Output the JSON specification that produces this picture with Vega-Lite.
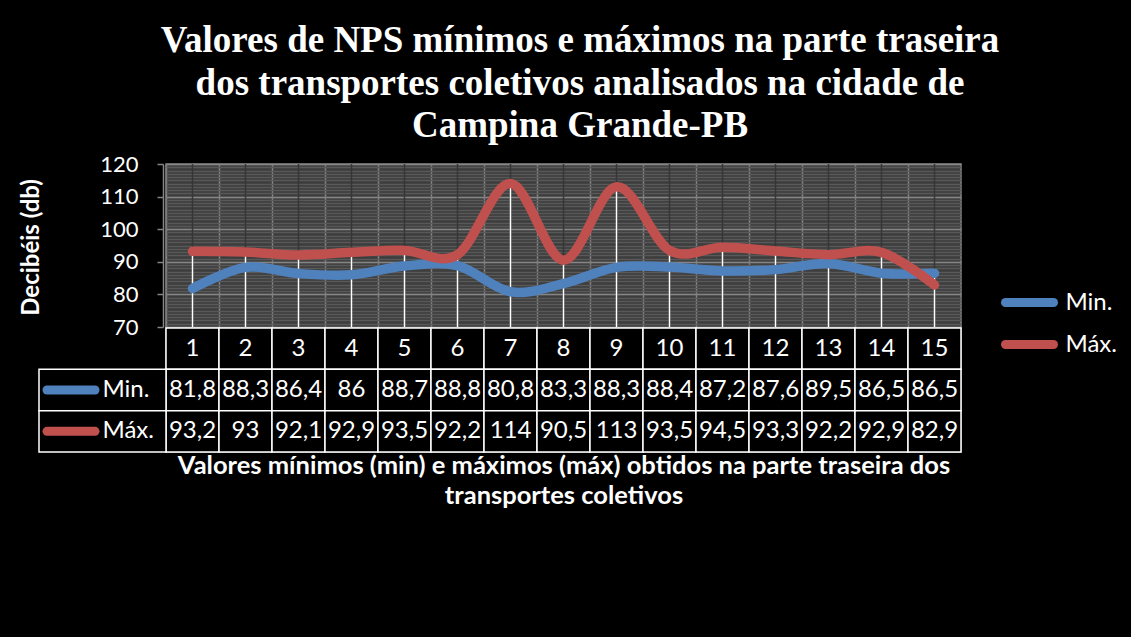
{
  "$schema": "https://vega.github.io/schema/vega-lite/v6.json",
  "width": 795,
  "height": 288,
  "autosize": "none",
  "padding": {"left": 166, "top": 164, "right": 170, "bottom": 185},
  "background": "black",
  "config": {
    "view": {"fill": "#3d3d3d", "stroke": "#858585", "strokeWidth": 1.5},
    "locale": {"number": {"decimal": ",", "thousands": ".", "grouping": [3], "currency": ["R$", ""]}}
  },
  "title": {
    "text": ["Valores de NPS mínimos e máximos na parte traseira", "dos transportes coletivos analisados na cidade de", "Campina Grande-PB"],
    "font": "Liberation Serif",
    "fontSize": 37,
    "fontWeight": "bold",
    "color": "white",
    "lineHeight": 42.5,
    "anchor": "middle",
    "frame": "group",
    "dx": 16.5,
    "offset": 8
  },
  "datasets": {
    "nps": [
      {"n": 1, "serie": "Min.", "value": 81.8},
      {"n": 2, "serie": "Min.", "value": 88.3},
      {"n": 3, "serie": "Min.", "value": 86.4},
      {"n": 4, "serie": "Min.", "value": 86},
      {"n": 5, "serie": "Min.", "value": 88.7},
      {"n": 6, "serie": "Min.", "value": 88.8},
      {"n": 7, "serie": "Min.", "value": 80.8},
      {"n": 8, "serie": "Min.", "value": 83.3},
      {"n": 9, "serie": "Min.", "value": 88.3},
      {"n": 10, "serie": "Min.", "value": 88.4},
      {"n": 11, "serie": "Min.", "value": 87.2},
      {"n": 12, "serie": "Min.", "value": 87.6},
      {"n": 13, "serie": "Min.", "value": 89.5},
      {"n": 14, "serie": "Min.", "value": 86.5},
      {"n": 15, "serie": "Min.", "value": 86.5},
      {"n": 1, "serie": "Máx.", "value": 93.2},
      {"n": 2, "serie": "Máx.", "value": 93},
      {"n": 3, "serie": "Máx.", "value": 92.1},
      {"n": 4, "serie": "Máx.", "value": 92.9},
      {"n": 5, "serie": "Máx.", "value": 93.5},
      {"n": 6, "serie": "Máx.", "value": 92.2},
      {"n": 7, "serie": "Máx.", "value": 114},
      {"n": 8, "serie": "Máx.", "value": 90.5},
      {"n": 9, "serie": "Máx.", "value": 113},
      {"n": 10, "serie": "Máx.", "value": 93.5},
      {"n": 11, "serie": "Máx.", "value": 94.5},
      {"n": 12, "serie": "Máx.", "value": 93.3},
      {"n": 13, "serie": "Máx.", "value": 92.2},
      {"n": 14, "serie": "Máx.", "value": 92.9},
      {"n": 15, "serie": "Máx.", "value": 82.9}
    ]
  },
  "data": {"name": "nps"},
  "layer": [
    {
      "transform": [{"filter": "datum.serie === 'Min.'"}],
      "mark": {"type": "rule", "color": "#363636", "strokeWidth": 1.5},
      "encoding": {
        "x": {"field": "n", "type": "ordinal", "scale": {"type": "band", "paddingInner": 0, "paddingOuter": 0}, "axis": null},
        "y": {
          "datum": 70, "type": "quantitative",
          "scale": {"domain": [70, 120], "range": [163, 0]},
          "axis": {
            "orient": "right",
            "values": [70,71,72,73,74,75,76,77,78,79,80,81,82,83,84,85,86,87,88,89,90,91,92,93,94,95,96,97,98,99,100,101,102,103,104,105,106,107,108,109,110,111,112,113,114,115,116,117,118,119,120],
            "grid": true, "gridColor": "#595959", "gridWidth": 1.5,
            "labels": false, "ticks": false, "domain": false, "title": null
          }
        },
        "y2": {"datum": 120}
      }
    },
    {
      "encoding": {
        "x": {
          "field": "n", "type": "ordinal",
          "scale": {"type": "band", "paddingInner": 0, "paddingOuter": 0},
          "axis": {"orient": "top", "grid": true, "bandPosition": 0, "gridColor": "#858585", "gridWidth": 1.5, "labels": false, "ticks": false, "domain": false, "title": null}
        }
      },
      "layer": [
        {
          "mark": {"type": "rule", "color": "white", "strokeWidth": 1.5},
          "encoding": {
            "y": {
              "aggregate": "max", "field": "value", "type": "quantitative",
              "scale": {"domain": [70, 120], "range": [163, 0]},
              "axis": {"orient": "left", "offset": 3, "values": [70, 80, 90, 100, 110, 120], "grid": true, "gridColor": "#858585", "gridWidth": 1.5, "domain": true, "domainColor": "#858585", "domainWidth": 1.5, "ticks": true, "tickColor": "#858585", "tickWidth": 1.5, "tickSize": 6, "labelFont": "Lato", "labelFontSize": 22, "labelColor": "white", "labelPadding": 19, "title": "Decibéis (db)", "titleFont": "Lato", "titleFontSize": 24, "titleFontWeight": "bold", "titleColor": "white", "titleX": -132, "titleY": 83, "titleBaseline": "middle", "titleAlign": "center", "titleAngle": 270}
            },
            "y2": {"datum": 70}
          }
        },
        {
          "mark": {"type": "line", "interpolate": "cardinal", "strokeWidth": 9.5, "strokeCap": "round", "strokeJoin": "round"},
          "encoding": {
            "y": {
              "field": "value", "type": "quantitative",
              "scale": {"domain": [70, 120], "range": [163, 0]},
              "axis": {"orient": "left", "offset": 3, "values": [70, 80, 90, 100, 110, 120], "grid": true, "gridColor": "#858585", "gridWidth": 1.5, "domain": true, "domainColor": "#858585", "domainWidth": 1.5, "ticks": true, "tickColor": "#858585", "tickWidth": 1.5, "tickSize": 6, "labelFont": "Lato", "labelFontSize": 22, "labelColor": "white", "labelPadding": 19, "title": "Decibéis (db)", "titleFont": "Lato", "titleFontSize": 24, "titleFontWeight": "bold", "titleColor": "white", "titleX": -132, "titleY": 83, "titleBaseline": "middle", "titleAlign": "center", "titleAngle": 270}
            },
            "color": {
              "field": "serie", "type": "nominal",
              "scale": {"domain": ["Min.", "Máx."], "range": ["#4F81BD", "#C0504D"]},
              "legend": {
                "orient": "none", "legendX": 847, "legendY": 122, "title": null,
                "labelFont": "Lato", "labelFontSize": 24, "labelColor": "white",
                "symbolType": "M-2,0H2", "symbolSize": 576, "symbolStrokeWidth": 9,
                "rowPadding": 5, "labelOffset": 19.5, "padding": 0,
                "encode": {"symbols": {"update": {"strokeCap": {"value": "round"}}}}
              }
            }
          }
        }
      ]
    },
    {
      "layer": [
        {
          "transform": [{"filter": "datum.serie === 'Min.'"}],
          "mark": {"type": "rect", "fill": "black", "stroke": "white", "strokeWidth": 1.5},
          "encoding": {
            "x": {
              "field": "n", "type": "ordinal",
              "scale": {"type": "band", "paddingInner": 0, "paddingOuter": 0},
              "axis": {"orient": "bottom", "labels": false, "ticks": false, "domain": false, "grid": false,
                "title": ["Valores mínimos (min) e máximos (máx) obtidos na parte traseira dos", "transportes coletivos"],
                "titleFont": "Lato", "titleFontSize": 25.5, "titleFontWeight": "bold", "titleColor": "white", "titlePadding": 1, "titleLineHeight": 30}
            },
            "y": {"datum": "hdr", "type": "nominal", "scale": {"type": "band", "domain": ["hdr", "Min.", "Máx."], "range": [164, 288], "paddingInner": 0, "paddingOuter": 0}, "axis": null}
          }
        },
        {
          "transform": [{"filter": "datum.serie === 'Min.'"}],
          "mark": {"type": "text", "color": "white", "font": "Lato", "fontSize": 24},
          "encoding": {
            "x": {"field": "n", "type": "ordinal"},
            "y": {"datum": "hdr", "type": "nominal"},
            "text": {"field": "n", "type": "ordinal"}
          }
        },
        {
          "mark": {"type": "rect", "fill": "black", "stroke": "white", "strokeWidth": 1.5},
          "encoding": {
            "x": {"field": "n", "type": "ordinal"},
            "y": {"field": "serie", "type": "nominal"}
          }
        },
        {
          "mark": {"type": "text", "color": "white", "font": "Lato", "fontSize": 24},
          "encoding": {
            "x": {"field": "n", "type": "ordinal"},
            "y": {"field": "serie", "type": "nominal"},
            "text": {"field": "value", "type": "quantitative", "format": "~f"}
          }
        }
      ]
    },
    {
      "transform": [{"filter": "datum.n === 1"}],
      "encoding": {
        "x": {"datum": "lbl", "type": "nominal", "scale": {"type": "band", "domain": ["lbl"], "range": [-127, 0], "paddingInner": 0, "paddingOuter": 0}, "axis": null},
        "y": {"field": "serie", "type": "nominal", "scale": {"type": "band", "domain": ["Min.", "Máx."], "range": [205.33, 288], "paddingInner": 0, "paddingOuter": 0}, "axis": null}
      },
      "layer": [
        {"mark": {"type": "rect", "fill": "black", "stroke": "white", "strokeWidth": 1.5}},
        {
          "mark": {"type": "point", "shape": "M-1,0H1", "size": 2304, "strokeWidth": 9, "strokeCap": "round", "opacity": 1, "xOffset": -31.5},
          "encoding": {"color": {"field": "serie", "type": "nominal"}}
        },
        {
          "mark": {"type": "text", "align": "left", "color": "white", "font": "Lato", "fontSize": 24},
          "encoding": {"text": {"field": "serie", "type": "nominal"}}
        }
      ]
    }
  ],
  "resolve": {"scale": {"x": "independent", "y": "independent"}}
}
